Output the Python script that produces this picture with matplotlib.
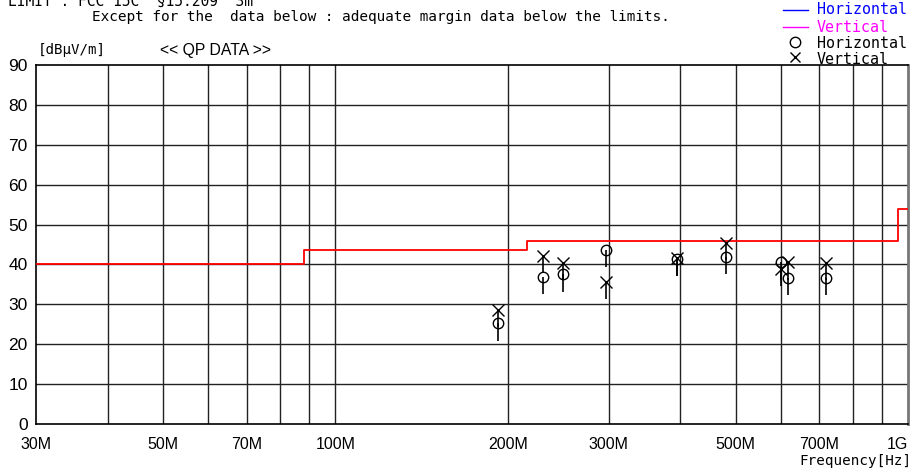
import matplotlib
matplotlib.use("Agg")
import matplotlib.pyplot as plt
from matplotlib.lines import Line2D
from matplotlib import font_manager
import numpy as np

# ---- data ----
freq_mhz = [192.5, 230.7, 250.0, 297.0, 394.5, 481.0, 600.0, 617.0, 719.0]
horiz_qp = [25.2, 36.9, 37.5, 43.6, 41.3, 41.9, 40.5, 36.6, 36.7]
vert_qp = [28.7, 42.1, 40.4, 35.7, 41.5, 45.4, 38.8, 40.5, 40.3]

limit_freq = [30, 88, 216, 960, 1000]
limit_level = [40, 43.5, 46, 54, 54]

x_ticks = [30, 50, 70, 100, 200, 300, 500, 700, 1000]
x_tick_labels = ["30M", "50M", "70M", "100M", "200M", "300M", "500M", "700M", "1G"]
y_ticks = [0, 10, 20, 30, 40, 50, 60, 70, 80, 90]

# ---- fonts ----
available = {f.name for f in font_manager.fontManager.ttflist}
tick_font = "Liberation Sans Narrow" if "Liberation Sans Narrow" in available else "Liberation Sans"
mono_font = "DejaVu Sans Mono"

fig = plt.figure(figsize=(9.2, 4.73), dpi=100)
ax = fig.add_axes([36 / 920, 49 / 473, 872 / 920, 359 / 473])

ax.set_xscale("log")
ax.set_xlim(30, 1000)
ax.set_ylim(0, 90)

# grid
grid_freqs = [40, 50, 60, 70, 80, 90, 100, 200, 300, 400, 500, 600, 700, 800, 900]
for f in grid_freqs:
    ax.axvline(f, color="#222222", lw=1.0, zorder=1)
for y in y_ticks[1:-1]:
    ax.axhline(y, color="#222222", lw=1.0, zorder=1)

# limit line
ax.plot(limit_freq, limit_level, drawstyle="steps-post", color="#ff0000", lw=1.3, zorder=3)

# stems below each reading
stem = 4.3
ax.vlines(freq_mhz, np.array(horiz_qp) - stem, horiz_qp, color="black", lw=1.2, zorder=4)
ax.vlines(freq_mhz, np.array(vert_qp) - stem, vert_qp, color="black", lw=1.2, zorder=4)

ax.plot(freq_mhz, horiz_qp, linestyle="none", marker="o", markersize=7.5,
        markerfacecolor="none", markeredgecolor="black", markeredgewidth=1.0, zorder=5)
ax.plot(freq_mhz, vert_qp, linestyle="none", marker="x", markersize=8,
        color="black", markeredgewidth=1.0, zorder=5)

# ticks
ax.set_xticks(x_ticks)
ax.set_xticklabels(x_tick_labels, fontsize=11.5, family=tick_font)
ax.xaxis.set_minor_locator(matplotlib.ticker.NullLocator())
ax.set_yticks(y_ticks)
ax.set_yticklabels([str(v) for v in y_ticks], fontsize=12.5, family=tick_font)
ax.tick_params(axis="both", length=0)
ax.tick_params(axis="x", pad=9)
ax.tick_params(axis="y", pad=6)
ax.get_xticklabels()[-1].set_horizontalalignment("right")

for s in ax.spines.values():
    s.set_color("black")
    s.set_linewidth(1.2)
ax.spines["right"].set_color("#777777")
ax.spines["right"].set_linewidth(2.0)

# header text
fig.text(8 / 920, 1 - 1 / 473, "LIMIT : FCC 15C  \u00a715.209  3m", fontsize=10.5,
         family=mono_font, va="center", ha="left")
fig.text(92 / 920, 1 - 17 / 473, "Except for the  data below : adequate margin data below the limits.",
         fontsize=10.4, family=mono_font, va="center", ha="left")
fig.text(38 / 920, 1 - 50 / 473, "[dB\u03bcV/m]", fontsize=10.2, family=mono_font,
         va="center", ha="left")
fig.text(160 / 920, 1 - 50 / 473, "<< QP DATA >>", fontsize=11.3, family="Liberation Sans",
         va="center", ha="left")
fig.text(912 / 920, 1 - 461 / 473, "Frequency[Hz]", fontsize=10.3, family=mono_font,
         va="center", ha="right")

# legend (top right)
legend_rows = [
    ("line", "#0000ff", "Horizontal", "#0000ff", 10),
    ("line", "#ff00ff", "Vertical", "#ff00ff", 27),
    ("o", "black", "Horizontal", "black", 44),
    ("x", "black", "Vertical", "black", 59),
]
for kind, mcol, label, tcol, ypx in legend_rows:
    yf = 1 - ypx / 473
    if kind == "line":
        fig.add_artist(Line2D([783 / 920, 808 / 920], [yf, yf], color=mcol, lw=1.0,
                              transform=fig.transFigure))
    else:
        fig.add_artist(Line2D([795 / 920], [yf + 0.004], marker=kind, markersize=7.5,
                              markerfacecolor="none", markeredgecolor=mcol,
                              markeredgewidth=1.0, linestyle="none",
                              transform=fig.transFigure))
    fig.text(817 / 920, yf, label, fontsize=10.8, family=mono_font, color=tcol,
             va="center", ha="left")

fig.savefig("out.png", dpi=100)
